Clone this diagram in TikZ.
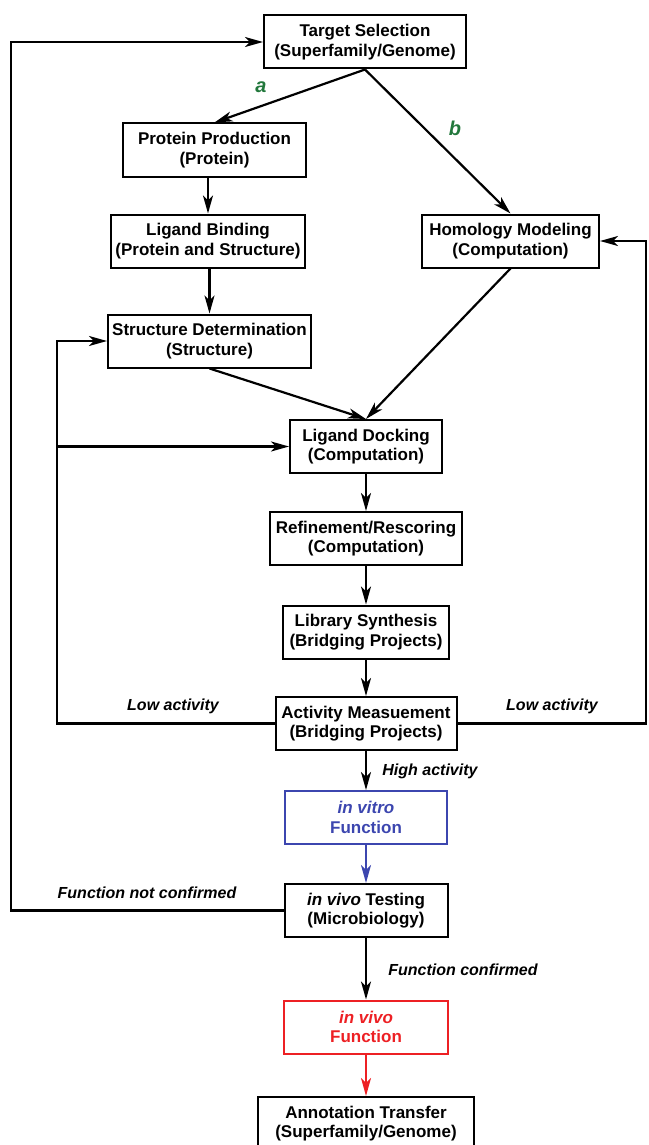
\documentclass[tikz,border=0pt]{standalone}
\usepackage{fontspec}
\setmainfont{Liberation Sans}
\usetikzlibrary{arrows.meta}
\usetikzlibrary{calc}
\definecolor{agreen}{RGB}{34,120,60}
\definecolor{vitroblue}{RGB}{60,70,175}
\definecolor{vivored}{RGB}{237,32,36}
\tikzset{
  box/.style={draw, line width=2pt, minimum height=53pt, inner xsep=2pt, align=center,
    font=\bfseries\fontsize{17}{19.5}\selectfont},
  arr/.style={line width=2.2pt, -{Stealth[length=18pt, width=10pt, inset=5pt]}},
  lbl/.style={font=\bfseries\itshape\fontsize{16}{19}\selectfont},
  ablbl/.style={font=\bfseries\itshape\fontsize{20}{22}\selectfont, text=agreen}
}
\begin{document}
\begin{tikzpicture}[x=1pt, y=-1pt]
      \useasboundingbox (0,0) rectangle (648,1145);
      \clip (0,0) rectangle (648,1145);
      \node[box, minimum width=202pt] (ts) at (365,42) {Target Selection\\(Superfamily/Genome)};
      \node[box, minimum width=183pt] (pp) at (214.5,150) {Protein Production\\(Protein)};
      \node[box, minimum width=194pt] (lb) at (208,241) {Ligand Binding\\(Protein and Structure)};
      \node[box, minimum width=177pt] (hm) at (510.5,241) {Homology Modeling\\(Computation)};
      \node[box, minimum width=203pt] (sd) at (209.5,341) {Structure Determination\\(Structure)};
      \node[box, minimum width=152pt] (ld) at (366,446.5) {Ligand Docking\\(Computation)};
      \node[box, minimum width=192pt] (rr) at (366,538.5) {Refinement/Rescoring\\(Computation)};
      \node[box, minimum width=166pt] (ls) at (366,632) {Library Synthesis\\(Bridging Projects)};
      \node[box, minimum width=181pt] (am) at (366,723.5) {Activity Measuement\\(Bridging Projects)};
      \node[box, minimum width=162pt, draw=vitroblue, text=vitroblue] (iv) at (366,817.5) {\textit{in vitro}\\Function};
      \node[box, minimum width=163pt] (vt) at (366,910.5) {\textit{in vivo} Testing\\(Microbiology)};
      \node[box, minimum width=164pt, draw=vivored, text=vivored] (vf) at (366,1027) {\textit{in vivo}\\Function};
      \node[box, minimum width=216pt] (at) at (366,1123.5) {Annotation Transfer\\(Superfamily/Genome)};
      \coordinate (lt) at (57,723.5);
      \coordinate (lk) at (57,446.5);
      \coordinate (rt) at (646,723.5);
      \coordinate (ot) at (11,910.5);
      \draw[arr] (ts.south) -- (pp.north);
      \draw[arr] (ts.south) -- (hm.north);
      \draw[arr] (lb.north |- pp.south) -- (lb.north);
      \draw[arr] (sd.north |- lb.south) -- (sd.north);
      \draw[arr] (sd.south) -- (ld.north);
      \draw[arr] (hm.south) -- (ld.north);
      \draw[arr] (ld.south) -- (rr.north);
      \draw[arr] (rr.south) -- (ls.north);
      \draw[arr] (ls.south) -- (am.north);
      \draw[arr] (am.south) -- (iv.north);
      \draw[arr, vitroblue] (iv.south) -- (vt.north);
      \draw[arr] (vt.south) -- (vf.north);
      \draw[arr, vivored] (vf.south) -- (at.north);
      \draw[arr] (am.west) -- (lt) |- (sd.west);
      \draw[arr] (lk) -- (ld.west);
      \draw[arr] (am.east) -- (rt) |- (hm.east);
      \draw[arr] (vt.west) -- (ot) |- (ts.west);
      \node[ablbl] (la) at (261,87) {a};
      \node[ablbl] (lbb) at (455,128) {b};
      \node[lbl] (low1) at (173,706) {Low activity};
      \node[lbl] (low2) at (552,706) {Low activity};
      \node[lbl] (high) at (430,771) {High activity};
      \node[lbl] (fnc) at (147,893) {Function not confirmed};
      \node[lbl] (fc) at (463,970) {Function confirmed};
    \end{tikzpicture}
\end{document}
